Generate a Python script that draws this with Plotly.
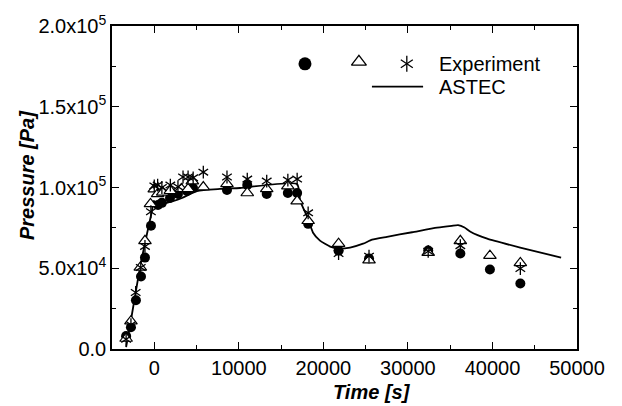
import plotly.graph_objects as go

# ---- data ----
circle_t = [-3330, -2760, -2170, -1570, -1100, -390, 440, 900, 1860, 2800, 3870, 4580,
            8600, 11000, 13300, 15800, 16900, 18200, 21800, 25400, 32400, 36200, 39700, 43300]
circle_p = [8000, 13500, 30200, 44900, 56600, 76300, 89200, 90500, 93500, 96000, 97800, 99700,
            98500, 101500, 96000, 96600, 96600, 77500, 60900, 56000, 61000, 59100, 49200, 40600]

tri_t = [-3330, -2760, -1650, -1100, -450, 0, 400, 1000, 1900, 3200, 4000, 4500, 5800,
         8600, 11000, 13300, 15800, 16900, 18200, 21800, 25400, 32400, 36200, 39700, 43300]
tri_p = [6500, 17200, 50500, 67000, 89800, 99000, 96000, 97000, 98000, 99100, 99100, 104000, 100300,
         102200, 96600, 99100, 100900, 91600, 79400, 65200, 55000, 59700, 67000, 57800, 53300]

star_t = [-3330, -2760, -2200, -1600, -1100, -400, 0, 400, 900, 1900, 2800, 3400, 4000, 4600, 5800,
          8600, 11000, 13300, 15800, 16900, 18200, 21800, 25400, 32400, 36200, 43300]
star_p = [6000, 15000, 35000, 50500, 63500, 85000, 101000, 101500, 100000, 101500, 100500, 106500,
          106500, 106000, 109500, 106500, 105200, 104000, 104600, 105200, 84300, 59100, 57500,
          60500, 64000, 49800]

astec_t = [-3330, -2760, -1690, -860, -270, -40, 320, 1500, 3280, 5050, 7770, 10140, 16890,
           17270, 18190, 18780, 19600, 20800, 21740, 23160, 24700, 25760, 27530, 30500, 33450,
           35200, 35940, 36700, 37400, 39380, 43280, 48120]
astec_p = [1200, 17800, 50500, 71400, 85500, 91700, 89800, 90500, 93500, 97800, 99100, 99700, 102200,
           91700, 80600, 72000, 67100, 63400, 62200, 62800, 65200, 67700, 69500, 72300, 75100,
           76300, 76700, 75200, 72600, 68300, 62800, 56600]

x_ticks = [0, 10000, 20000, 30000, 40000, 50000]
x_ticktext = ["0", "10000", "20000", "30000", "40000", "50000"]
y_ticks = [0, 50000, 100000, 150000, 200000]
y_ticktext = ["0.0", "5.0x10<sup>4</sup>", "1.0x10<sup>5</sup>", "1.5x10<sup>5</sup>", "2.0x10<sup>5</sup>"]

FONT = "Arial, Liberation Sans, sans-serif"

fig = go.Figure()

fig.add_trace(go.Scatter(x=astec_t, y=astec_p, mode="lines",
                         line=dict(color="black", width=1.8, shape="spline", smoothing=0.5),
                         showlegend=False))
fig.add_trace(go.Scatter(x=circle_t, y=circle_p, mode="markers",
                         marker=dict(symbol="circle", size=10, color="black"),
                         showlegend=False))
fig.add_trace(go.Scatter(x=tri_t, y=tri_p, mode="markers",
                         marker=dict(symbol="triangle-up", size=11, color="white",
                                     line=dict(color="black", width=1.2)),
                         showlegend=False))
for sym in ["y-up-open", "y-down-open"]:
    fig.add_trace(go.Scatter(x=star_t, y=star_p, mode="markers",
                             marker=dict(symbol=sym, size=8, color="black",
                                         line=dict(color="black", width=1.3)),
                             showlegend=False))

# ---- hand-made legend on an invisible overlay axis (0..1) ----
fig.add_trace(go.Scatter(x=[0.415], y=[0.883], xaxis="x2", yaxis="y2", mode="markers",
                         marker=dict(symbol="circle", size=13, color="black"), showlegend=False))
fig.add_trace(go.Scatter(x=[0.531], y=[0.889], xaxis="x2", yaxis="y2", mode="markers",
                         marker=dict(symbol="triangle-up", size=13, color="white",
                                     line=dict(color="black", width=1.3)), showlegend=False))
for sym in ["y-up-open", "y-down-open"]:
    fig.add_trace(go.Scatter(x=[0.634], y=[0.883], xaxis="x2", yaxis="y2", mode="markers",
                             marker=dict(symbol=sym, size=10, color="black",
                                         line=dict(color="black", width=1.3)), showlegend=False))
fig.add_trace(go.Scatter(x=[0.559, 0.669], y=[0.812, 0.812], xaxis="x2", yaxis="y2", mode="lines",
                         line=dict(color="black", width=1.8), showlegend=False))

annotations = [
    dict(text="Experiment", x=0.699, y=0.883, xref="paper", yref="paper", xanchor="left",
         yanchor="middle", showarrow=False, font=dict(family=FONT, size=20, color="black")),
    dict(text="ASTEC", x=0.699, y=0.812, xref="paper", yref="paper", xanchor="left",
         yanchor="middle", showarrow=False, font=dict(family=FONT, size=20, color="black")),
    dict(text="<b><i>Time [s]</i></b>", x=(372 - 112) / 465, y=-43 / 325, xref="paper", yref="paper",
         xanchor="center", yanchor="middle", showarrow=False,
         font=dict(family=FONT, size=20, color="black")),
    dict(text="<b><i>Pressure [Pa]</i></b>", x=(27 - 112) / 465, y=(349 - 174) / 325,
         xref="paper", yref="paper", xanchor="center", yanchor="middle", textangle=-90,
         showarrow=False, font=dict(family=FONT, size=20, color="black")),
]

axis_common = dict(showgrid=False, zeroline=False, showline=True, linecolor="black", linewidth=1.5,
                   mirror="ticks", ticks="inside", ticklen=7, tickwidth=1.3, tickcolor="black",
                   tickfont=dict(family=FONT, size=20, color="black"))

fig.update_layout(
    width=622, height=406,
    margin=dict(l=112, r=45, t=24, b=57),
    paper_bgcolor="white", plot_bgcolor="white",
    showlegend=False,
    annotations=annotations,
    xaxis=dict(range=[-5000, 50000], tickvals=x_ticks, ticktext=x_ticktext,
               minor=dict(ticks="inside", dtick=5000, tick0=0, ticklen=4, tickwidth=1.3,
                          tickcolor="black"),
               **axis_common),
    yaxis=dict(range=[0, 200000], tickvals=y_ticks, ticktext=y_ticktext,
               minor=dict(ticks="inside", dtick=25000, tick0=0, ticklen=4, tickwidth=1.3,
                          tickcolor="black"),
               **axis_common),
    xaxis2=dict(overlaying="x", range=[0, 1], visible=False),
    yaxis2=dict(overlaying="y", range=[0, 1], visible=False),
)

fig.write_html("out.html", config={"displayModeBar": False},
               post_script="document.body.style.margin='0';document.body.style.overflow='hidden';")
